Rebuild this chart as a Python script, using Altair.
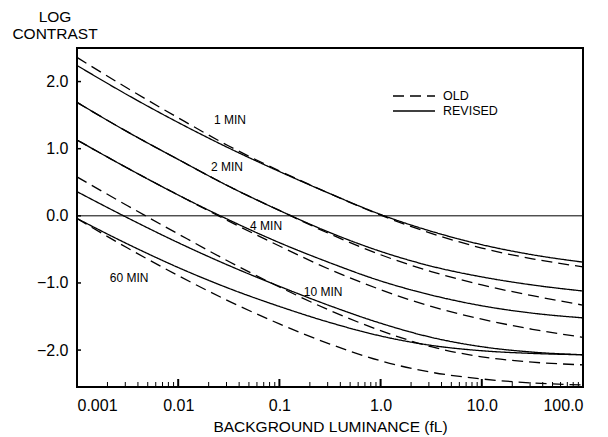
import altair as alt
import pandas as pd

# Background luminance (fL), half-decade steps
luminance = [0.001, 0.00316, 0.01, 0.0316, 0.1, 0.316, 1.0, 3.16, 10.0, 31.6, 100.0]

# Log contrast threshold, revised curves (solid)
rev_1min = [2.24, 1.80, 1.39, 1.01, 0.66, 0.33, 0.02, -0.23, -0.43, -0.58, -0.69]
rev_2min = [1.69, 1.25, 0.84, 0.44, 0.08, -0.25, -0.53, -0.75, -0.91, -1.03, -1.12]
rev_4min = [1.13, 0.71, 0.31, -0.06, -0.40, -0.70, -0.97, -1.18, -1.34, -1.45, -1.52]
rev_10min = [0.36, -0.03, -0.40, -0.74, -1.05, -1.34, -1.60, -1.81, -1.95, -2.03, -2.07]
rev_60min = [-0.04, -0.42, -0.77, -1.08, -1.35, -1.59, -1.79, -1.93, -2.01, -2.05, -2.07]

# Log contrast threshold, old curves (dashed)
old_1min = [2.36, 1.90, 1.46, 1.04, 0.67, 0.33, 0.01, -0.26, -0.48, -0.64, -0.76]
old_2min = [1.69, 1.25, 0.84, 0.44, 0.08, -0.27, -0.58, -0.83, -1.03, -1.19, -1.33]
old_4min = [1.13, 0.71, 0.31, -0.08, -0.45, -0.80, -1.10, -1.35, -1.54, -1.69, -1.81]
old_10min = [0.58, 0.15, -0.27, -0.68, -1.06, -1.41, -1.71, -1.95, -2.10, -2.18, -2.22]
old_60min = [-0.04, -0.48, -0.89, -1.27, -1.61, -1.91, -2.16, -2.33, -2.43, -2.49, -2.52]

sizes = ["1 MIN", "2 MIN", "4 MIN", "10 MIN", "60 MIN"]
revised = [rev_1min, rev_2min, rev_4min, rev_10min, rev_60min]
old = [old_1min, old_2min, old_4min, old_10min, old_60min]

# Curve labels
label_text = ["1 MIN", "2 MIN", "4 MIN", "10 MIN", "60 MIN"]
label_x = [0.0325, 0.0303, 0.0738, 0.27, 0.00327]
label_y = [1.42, 0.72, -0.15, -1.13, -0.93]

x_ticks = [0.001, 0.01, 0.1, 1, 10, 100]
y_ticks = [-2, -1, 0, 1, 2]
minor_ticks = [k * 10.0 ** e for e in range(-3, 2) for k in range(2, 10)]
major_ticks = [0.01, 0.1, 1, 10]

rows = []
for name, rv, ov in zip(sizes, revised, old):
    for lum, r, o in zip(luminance, rv, ov):
        rows.append({"lum": lum, "lc": r, "curve": name + " revised", "kind": "REVISED"})
        rows.append({"lum": lum, "lc": o, "curve": name + " old", "kind": "OLD"})
curves = pd.DataFrame(rows)

W, H = 506, 339
FONT = "Liberation Sans"

x_scale = alt.Scale(type="log", domain=[0.001, 100], nice=False)
y_scale = alt.Scale(domain=[-2.55, 2.5], nice=False, zero=False)

x_axis = alt.Axis(
    values=x_ticks, title="BACKGROUND LUMINANCE (fL)", grid=False, ticks=False,
    domain=False, labelFontSize=16, labelFont=FONT, labelColor="black",
    labelPadding=10, titleFont=FONT, titleFontSize=15.5, titleFontWeight="normal",
    titleColor="black", titlePadding=6,
    labelExpr="datum.value >= 1 ? format(datum.value, '.1f') : format(datum.value, '~g')",
)
y_axis = alt.Axis(
    values=y_ticks, title=None, grid=False, ticks=False, domain=False,
    labelFontSize=16, labelFont=FONT, labelColor="black", labelPadding=9,
    format=".1f",
)

base = alt.Chart(curves)

lines = base.mark_line(color="black", strokeWidth=1.3, interpolate="monotone", clip=True).encode(
    x=alt.X("lum:Q", scale=x_scale, axis=x_axis),
    y=alt.Y("lc:Q", scale=y_scale, axis=y_axis),
    detail="curve:N",
    strokeDash=alt.StrokeDash(
        "kind:N",
        scale=alt.Scale(domain=["OLD", "REVISED"], range=[[11, 6], [1, 0]]),
        legend=None,
    ),
)

zero = alt.Chart(pd.DataFrame({"y": [0]})).mark_rule(color="black", strokeWidth=1).encode(
    y=alt.Y("y:Q", scale=y_scale)
)

minor = alt.Chart(pd.DataFrame({"t": minor_ticks})).mark_rule(color="black", strokeWidth=1).encode(
    x=alt.X("t:Q", scale=x_scale), y=alt.value(H), y2=alt.value(H - 5)
)
major = alt.Chart(pd.DataFrame({"t": major_ticks})).mark_rule(color="black", strokeWidth=2).encode(
    x=alt.X("t:Q", scale=x_scale), y=alt.value(H), y2=alt.value(H - 8)
)
yticks = alt.Chart(pd.DataFrame({"v": y_ticks})).mark_rule(color="black", strokeWidth=1.5).encode(
    y=alt.Y("v:Q", scale=y_scale), x=alt.value(0), x2=alt.value(4)
)

labels = alt.Chart(pd.DataFrame({"t": label_text, "x": label_x, "y": label_y})).mark_text(
    font=FONT, fontSize=12, color="black", align="center", baseline="middle"
).encode(x=alt.X("x:Q", scale=x_scale), y=alt.Y("y:Q", scale=y_scale), text="t:N")

# Legend drawn by hand in the upper right
legend_rows = pd.DataFrame({"name": ["OLD", "REVISED"], "py": [48, 63]})
leg_old = alt.Chart(legend_rows.iloc[[0]]).mark_rule(color="black", strokeWidth=1.3, strokeDash=[11, 6]).encode(
    x=alt.value(316), x2=alt.value(358), y=alt.Y("py:Q", scale=None)
)
leg_rev = alt.Chart(legend_rows.iloc[[1]]).mark_rule(color="black", strokeWidth=1.3).encode(
    x=alt.value(316), x2=alt.value(358), y=alt.Y("py:Q", scale=None)
)
leg_text = alt.Chart(legend_rows).mark_text(
    font=FONT, fontSize=12.5, color="black", align="left", baseline="middle"
).encode(x=alt.value(366), y=alt.Y("py:Q", scale=None), text="name:N")

# Two-line y title at the top left
ytitle_rows = pd.DataFrame({"t": ["LOG", "CONTRAST"], "py": [-31, -14]})
ytitle = alt.Chart(ytitle_rows).mark_text(
    font=FONT, fontSize=15.5, color="black", align="center", baseline="middle"
).encode(x=alt.value(-22), y=alt.Y("py:Q", scale=None), text="t:N")

chart = alt.layer(
    zero, lines, minor, major, yticks, labels, leg_old, leg_rev, leg_text, ytitle
).resolve_scale(y="shared").properties(
    width=W, height=H,
    autosize=alt.AutoSizeParams(type="none"),
    padding={"left": 77, "top": 48, "right": 25, "bottom": 50},
    background="white",
).configure_view(stroke="black", strokeWidth=2)

chart.save("out.html", embed_options={"renderer": "svg", "actions": False})
